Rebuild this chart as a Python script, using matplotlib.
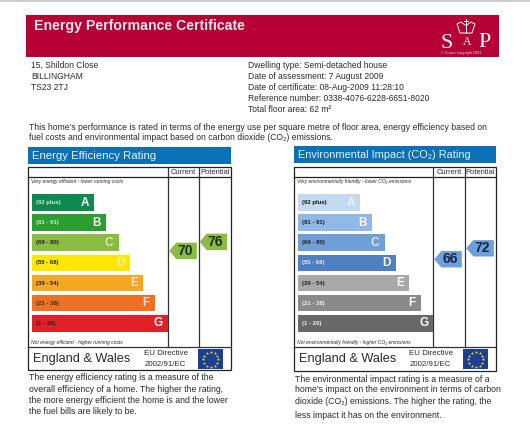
import matplotlib
matplotlib.use('Agg')
import matplotlib.pyplot as plt
from matplotlib.patches import Polygon, Rectangle
import numpy as np

W, H = 530, 437

band_letters = ['A', 'B', 'C', 'D', 'E', 'F', 'G']
band_ranges = ['(92 plus)', '(81 - 91)', '(69 - 80)', '(55 - 68)', '(39 - 54)', '(21 - 38)', '(1 - 20)']
band_length = [62, 73.5, 86.4, 98, 111, 123, 136]

eff_colors = ['#0c8a50', '#2a9e2f', '#8cbb41', '#ffe800', '#f6a623', '#ee7024', '#e2202a']
env_colors = ['#c4daf1', '#8fb8e6', '#709fd8', '#4e7fc3', '#a8a8a8', '#8a8a8a', '#686868']
eff_letter = ['white', 'white', '#dfe9c0', '#f7f0a0', '#f8e8c0', '#fbe0c8', 'white']
env_letter = ['#eef4fb', 'white', '#dce8f5', 'white', 'white', 'white', 'white']
eff_range = ['#cfe8d8', '#cfe8d0', '#222222', '#222222', '#222222', '#3a2a20', '#3a1010']
env_range = ['#111111', '#222222', '#222222', '#e0e8f5', '#222222', '#f0f0f0', '#f0f0f0']

eff_current, eff_potential = 70, 76
env_current, env_potential = 66, 72

address = ['15, Shildon Close', 'BILLINGHAM', 'TS23 2TJ']
details = ['Dwelling type: Semi-detached house', 'Date of assessment: 7 August 2009',
           'Date of certificate: 08-Aug-2009 11:28:10', 'Reference number: 0338-4076-6228-6651-8020',
           'Total floor area: 62 m²']
intro = ["This home's performance is rated in terms of the energy use per square metre of floor area, energy efficiency based on",
         'fuel costs and environmental impact based on carbon dioxide (CO₂) emissions.']
eff_note = ['The energy efficiency rating is a measure of the', 'overall efficiency of a home. The higher the rating,',
            'the more energy efficient the home is and the lower', 'the fuel bills are likely to be.']
env_note = ['The environmental impact rating is a measure of a', "home's impact on the environment in terms of carbon",
            'dioxide (CO₂) emissions. The higher the rating, the', 'less impact it has on the environment.']

plt.rcParams['font.family'] = ['Liberation Sans', 'DejaVu Sans']
TXT = '#2b2b2b'

fig = plt.figure(figsize=(W / 100, H / 100), dpi=100, facecolor='white')
page = fig.add_axes([0, 0, 1, 1])
page.set(xlim=(0, W), ylim=(H, 0))
page.axis('off')


def sub_axes(x0, y0, x1, y1):
    ax = fig.add_axes([x0 / W, 1 - y1 / H, (x1 - x0) / W, (y1 - y0) / H])
    ax.patch.set_alpha(0)
    ax.axis('off')
    return ax


def panel(box, title, tsize, top, bottom, colors, letter_c, range_c, cur, pot, scale, arrow_c, num_c, note, note_y):
    x0, x1, xc, xp, ytop, yhead, ychart, ybot, title_y = box
    page.add_patch(Rectangle((x0, title_y), x1 - x0, 17, fc='#0b70b6', ec='none'))
    page.text(x0 + 3.5, title_y + 8.7, title, color='#e8f2fa', fontsize=tsize, va='center')

    page.add_patch(Rectangle((x0, ytop), x1 - x0, ybot - ytop, fc='none', ec='#222222', lw=0.9))
    page.plot([x0, x1], [yhead, yhead], color='#222222', lw=0.9)
    page.plot([x0, x1], [ychart, ychart], color='#333333', lw=0.9)
    page.plot([xc, xc], [ytop, ychart], color='#333333', lw=0.9)
    page.plot([xp, xp], [ytop, ychart], color='#333333', lw=0.9)
    page.text((xc + xp) / 2, (ytop + yhead) / 2, 'Current', fontsize=5.4, color=TXT, ha='center', va='center')
    page.text((xp + x1) / 2, (ytop + yhead) / 2, 'Potential', fontsize=5.4, color=TXT, ha='center', va='center')
    page.text(x0 + 2.5, yhead + 4.5, top, fontsize=3.65, style='italic', color=TXT, va='center')
    page.text(x0 + 2.5, ychart - 5, bottom, fontsize=3.65, style='italic', color=TXT, va='center')

    # bands
    ax = sub_axes(x0, yhead, xc, ychart)
    ax.set(xlim=(0, xc - x0), ylim=((ychart - 202.6) / 20.1, (yhead - 202.6) / 20.1))
    y = np.arange(len(band_letters))
    ax.barh(y, band_length, left=4, height=0.83, color=colors)
    for i, n in enumerate(band_length):
        ax.text(4 + n - 5.5, y[i], band_letters[i], color=letter_c[i], fontsize=8.5, fontweight='bold', ha='right', va='center')
        ax.text(8, y[i], band_ranges[i], color=range_c[i], fontsize=4.3, fontweight='bold', va='center')

    # rating arrows, on a rating scale
    rax = sub_axes(xc, yhead, x1, ychart)
    rax.set(xlim=(xc, x1), ylim=scale)
    half = 8.2 * (scale[1] - scale[0]) / (ychart - yhead)
    for r, cx in ((cur, xc), (pot, xp)):
        tip, body, end = cx + 1, cx + 8, cx + 28.5
        rax.add_patch(Polygon([(tip, r), (body, r + half), (end, r + half), (end, r - half), (body, r - half)],
                              fc=arrow_c, ec='none'))
        rax.text((body + end) / 2 - 1.5, r, str(r), color=num_c, fontsize=10, fontweight='bold', ha='center', va='center')

    # footer
    page.text(x0 + 4.5, ychart + 12, 'England & Wales', fontsize=9.2, color=TXT, va='center')
    page.text(xc - 24, ychart + 6.5, 'EU Directive', fontsize=5.7, color=TXT, va='center')
    page.text(xc - 24, ychart + 17, '2002/91/EC', fontsize=5.7, color=TXT, va='center')
    fx, fy = xc + 30, ychart + 2
    page.add_patch(Rectangle((fx, fy), 25, 20, fc='#1c3f94', ec='none'))
    a = np.arange(12) * np.pi / 6
    page.scatter(fx + 12.5 + 7.5 * np.cos(a), fy + 10 + 7.5 * np.sin(a), marker='*', s=6, color='#f3dc2a', linewidths=0)

    for i, line in enumerate(note):
        page.text(x0 + 0.5, note_y[i], line, fontsize=6.28, color=TXT, va='center')


# page header
page.add_patch(Rectangle((0, 0), W, 1.6, fc='#cfcfcf', ec='none'))
page.add_patch(Rectangle((25.7, 15), 473, 42, fc='#b60035', ec='none'))
page.text(34, 25.7, 'Energy Performance Certificate', color='#f6e6ea', fontsize=10.2, fontweight='bold', va='center')
page.text(441, 43, 'S', family='Liberation Serif', color='white', fontsize=15.8, ha='left', va='center')
page.text(463, 42, 'A', family='Liberation Serif', color='white', fontsize=8.5, ha='left', va='center')
page.text(478, 42.5, 'P', family='Liberation Serif', color='white', fontsize=15.8, ha='left', va='center')
page.add_patch(Polygon([(457, 24), (461, 22), (465, 25), (467, 25), (471, 22), (475, 24), (472, 33), (460, 33)],
                       fc='none', ec='white', lw=0.7))
page.plot([466, 466], [19, 33], color='white', lw=0.7)
page.plot([464, 468], [21, 21], color='white', lw=0.7)
page.text(461.5, 53, '© Crown copyright 2003', color='#f0d0d8', fontsize=2.7, ha='center', va='center')

for i, line in enumerate(address):
    page.text(31.4, 65.3 + i * 11, line, fontsize=6.14, color=TXT, va='center')
for i, line in enumerate(details):
    page.text(248, 65.3 + i * 11, line, fontsize=6.14, color=TXT, va='center')
for i, line in enumerate(intro):
    page.text(29.4, 127 + i * 11, line, fontsize=6.23, color=TXT, va='center')

panel((28.3, 230.7, 168.3, 198.7, 167.3, 177.3, 347.3, 370.3, 147), 'Energy Efficiency Rating', 8.2,
      'Very energy efficient - lower running costs', 'Not energy efficient - higher running costs',
      eff_colors, eff_letter, eff_range, eff_current, eff_potential, (5.8, 119), '#8cbb41', '#16301a',
      eff_note, [378, 389, 400.5, 411])
panel((294.3, 496, 433.3, 465.3, 167.3, 177.3, 347.3, 371, 146), 'Environmental Impact (CO₂) Rating', 7.9,
      'Very environmentally friendly - lower CO₂ emissions', 'Not environmentally friendly - higher CO₂ emissions',
      env_colors, env_letter, env_range, env_current, env_potential, (17.9, 110.8), '#6f9fd8', '#14264e',
      env_note, [379, 390, 401, 415])

fig.savefig('out.png', dpi=100, facecolor='white')
